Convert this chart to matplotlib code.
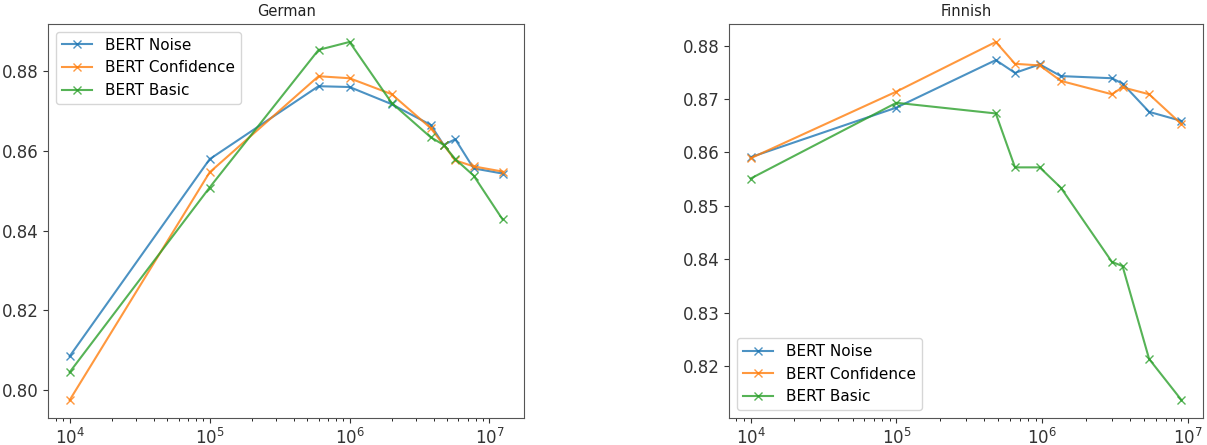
import matplotlib
matplotlib.use("Agg")
import matplotlib.pyplot as plt

# ── German ────────────────────────────────────────────────────────────────────
de_sizes      = [1e4, 1e5, 6e5, 1e6, 2e6, 3.8e6, 4.7e6, 5.7e6, 7.7e6, 1.24e7]
de_noise      = [0.8085, 0.8579, 0.8762, 0.8760, 0.8717, 0.8665, 0.8615, 0.8629, 0.8556, 0.8543]
de_confidence = [0.7975, 0.8546, 0.8787, 0.8782, 0.8742, 0.8657, 0.8615, 0.8576, 0.8561, 0.8548]
de_basic      = [0.8045, 0.8508, 0.8853, 0.8873, 0.8720, 0.8634, 0.8615, 0.8579, 0.8538, 0.8428]

# ── Finnish ───────────────────────────────────────────────────────────────────
fi_sizes      = [1e4, 1e5, 4.8e5, 6.5e5, 9.6e5, 1.34e6, 3.0e6, 3.55e6, 5.4e6, 9.0e6]
fi_noise      = [0.8591, 0.8684, 0.8773, 0.8749, 0.8765, 0.8743, 0.8739, 0.8729, 0.8676, 0.8659]
fi_confidence = [0.8589, 0.8714, 0.8807, 0.8766, 0.8763, 0.8734, 0.8709, 0.8722, 0.8709, 0.8653]
fi_basic      = [0.8551, 0.8693, 0.8673, 0.8572, 0.8572, 0.8534, 0.8395, 0.8387, 0.8213, 0.8136]

labels = ["BERT Noise", "BERT Confidence", "BERT Basic"]
colors = ["#1f77b4", "#ff7f0e", "#2ca02c"]

fig = plt.figure(figsize=(12.07, 4.45), dpi=100)
ax_de = fig.add_axes([0.0398, 0.0607, 0.3945, 0.8853])
ax_fi = fig.add_axes([0.6040, 0.0607, 0.3927, 0.8853])

panels = [
    (ax_de, "German", de_sizes, [de_noise, de_confidence, de_basic], "upper left"),
    (ax_fi, "Finnish", fi_sizes, [fi_noise, fi_confidence, fi_basic], "lower left"),
]

for ax, title, xs, series, loc in panels:
    for ys, lab, col in zip(series, labels, colors):
        ax.plot(xs, ys, marker="x", color=col, alpha=0.8, linewidth=1.5, label=lab)
    ax.set_xscale("log")
    ax.set_title(title, fontsize=10.5, color="#222222")
    ax.tick_params(labelsize=12, colors="#333333")
    for sp in ax.spines.values():
        sp.set_color("#555555")
    ax.legend(loc=loc, fontsize=11)

fig.savefig("out.png", dpi=100)
